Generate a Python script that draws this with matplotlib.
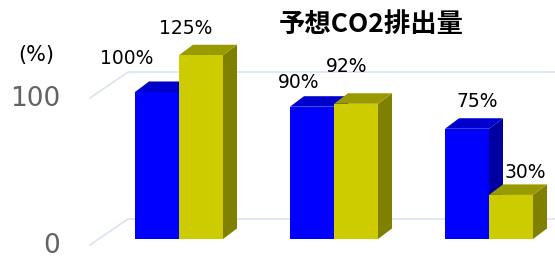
import matplotlib.pyplot as plt
from matplotlib.patches import Polygon

# data
groups = ['A', 'B', 'C']
blue_vals = [100, 90, 75]
yellow_vals = [125, 92, 30]
blue_labels = ['100%', '90%', '75%']
yellow_labels = ['125%', '92%', '30%']
yticks = [0, 100]
title = '予想CO2排出量'

# style
W, H = 555, 265
px_x = 155.0          # pixels per category
px_y = 1.47           # pixels per percent
x0_px, y0_px = 179, 239
bw = 44 / px_x
ddx, ddy = 14 / px_x, 10.5 / px_y   # bar depth
blue_c = ('#0000ff', '#0000cc', '#0000a0')
yel_c = ('#cccc00', '#999900', '#808000')
grid_c = '#dae3f3'

fig = plt.figure(figsize=(W / 100, H / 100), dpi=100)
ax = fig.add_axes([0, 0, 1, 1])
ax.set_xlim(-x0_px / px_x, (W - x0_px) / px_x)
ax.set_ylim((y0_px - H) / px_y, y0_px / px_y)
ax.axis('off')

# back wall gridlines with perspective floor edge
gx_front, gx_back = (90 - x0_px) / px_x, (128 - x0_px) / px_x
for v in yticks:
    yf, yb = v - 6 / px_y, v + 20 / px_y
    ax.plot([gx_front, gx_back, 3.0], [yf, yb, yb], color=grid_c, lw=1.2, zorder=0)
    ax.annotate(str(v), (gx_front, yf), xytext=(-30, -1), textcoords='offset pixels',
                ha='right', va='center', fontsize=19, color='#636363')

def bar3d(x, h, cols):
    front = [(x, 0), (x + bw, 0), (x + bw, h), (x, h)]
    top = [(x, h), (x + bw, h), (x + bw + ddx, h + ddy), (x + ddx, h + ddy)]
    side = [(x + bw, 0), (x + bw + ddx, ddy), (x + bw + ddx, h + ddy), (x + bw, h)]
    for poly, c in ((side, cols[2]), (top, cols[1]), (front, cols[0])):
        ax.add_patch(Polygon(poly, closed=True, facecolor=c, edgecolor='none', zorder=2))

blue_off = [(-30, 33), (-13, 24), (10, 27)]
yel_off = [(-15, 27), (-9, 37), (14, 22)]
for i in range(len(groups)):
    bar3d(i - bw, blue_vals[i], blue_c)
    bar3d(i, yellow_vals[i], yel_c)
    ax.annotate(blue_labels[i], (i - bw / 2, blue_vals[i]), xytext=blue_off[i],
                textcoords='offset pixels', ha='center', va='center', fontsize=13.5)
    ax.annotate(yellow_labels[i], (i + bw / 2, yellow_vals[i]), xytext=yel_off[i],
                textcoords='offset pixels', ha='center', va='center', fontsize=13.5)

fig.text(36 / W, 1 - 55 / H, '(%)', ha='center', va='center', fontsize=15)
fig.text(371 / W, 1 - 25 / H, title, ha='center', va='center', fontsize=19,
         fontweight='bold', family=['Noto Sans CJK JP', 'DejaVu Sans'])

fig.savefig('out.png', dpi=100)
